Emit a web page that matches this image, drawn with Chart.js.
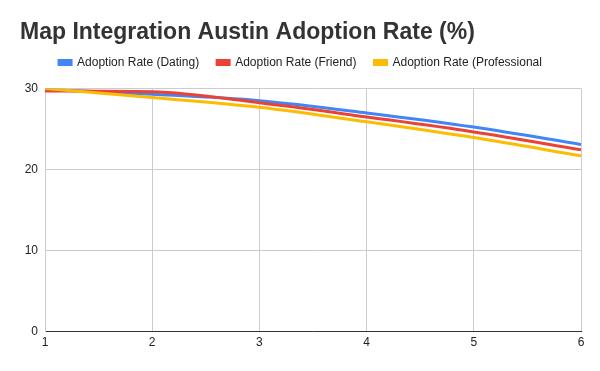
<!DOCTYPE html>
<html>
<head>
<meta charset="utf-8">
<script src="https://cdn.jsdelivr.net/npm/chart.js@4/dist/chart.umd.min.js"></script>
<style>
html,body{margin:0;padding:0;background:#fff;}
#wrap{width:600px;height:371px;position:relative;}
</style>
</head>
<body>
<div id="wrap"><canvas id="c"></canvas></div>
<script>
const titleText = "Map Integration Austin Adoption Rate (%)";
const xValues = [1, 2, 3, 4, 5, 6];
const seriesNames = ["Adoption Rate (Dating)", "Adoption Rate (Friend)", "Adoption Rate (Professional"];
const datingRate = [29.9, 29.3, 28.5, 27.0, 25.25, 23.1];
const friendRate = [29.7, 29.6, 28.25, 26.5, 24.65, 22.45];
const professionalRate = [30.0, 28.9, 27.7, 25.9, 23.95, 21.7];
const yTicks = [0, 10, 20, 30];
const colors = ["#4285F4", "#EA4335", "#FBBC04"];

const seriesValues = [datingRate, friendRate, professionalRate];
const datasets = seriesValues.map((vals, i) => ({
  label: seriesNames[i],
  data: xValues.map((x, j) => ({x: x, y: vals[j]})),
  borderColor: colors[i],
  backgroundColor: colors[i],
  borderWidth: 3,
  pointRadius: 0,
  cubicInterpolationMode: 'monotone',
  order: 3 - i
}));

const legendShift = {
  id: 'legendShift',
  afterLayout(chart) {
    const lg = chart.legend;
    lg.top -= 10;
    lg.bottom -= 10;
  }
};

const FONT = "'Liberation Sans', Arial, sans-serif";

new Chart(document.getElementById('c'), {
  type: 'line',
  data: {datasets},
  plugins: [legendShift],
  options: {
    responsive: true,
    maintainAspectRatio: false,
    animation: false,
    layout: {padding: {left: 20, right: 19, top: 7, bottom: 17}},
    plugins: {
      title: {
        display: true,
        text: titleText,
        align: 'start',
        color: '#333333',
        font: {family: FONT, size: 23, weight: 'bold'},
        padding: {top: 12, bottom: 2}
      },
      legend: {
        display: true,
        position: 'top',
        align: 'center',
        labels: {
          boxWidth: 12,
          boxHeight: 4,
          padding: 18,
          color: '#222222',
          font: {family: FONT, size: 12},
          sort: (a, b) => a.datasetIndex - b.datasetIndex
        }
      },
      tooltip: {enabled: false}
    },
    scales: {
      x: {
        type: 'linear',
        min: 1,
        max: 6,
        ticks: {
          stepSize: 1,
          color: '#222222',
          padding: 4,
          font: {family: FONT, size: 12}
        },
        grid: {color: '#cccccc', drawTicks: false},
        border: {color: '#333333', width: 1}
      },
      y: {
        min: 0,
        max: 30,
        afterFit(axis) { axis.width = 25; },
        afterBuildTicks(axis) { axis.ticks = yTicks.map(v => ({value: v})); },
        ticks: {
          color: '#222222',
          padding: 7,
          font: {family: FONT, size: 12}
        },
        grid: {color: '#cccccc', drawTicks: false},
        border: {color: '#cccccc', width: 1}
      }
    }
  }
});
</script>
</body>
</html>
